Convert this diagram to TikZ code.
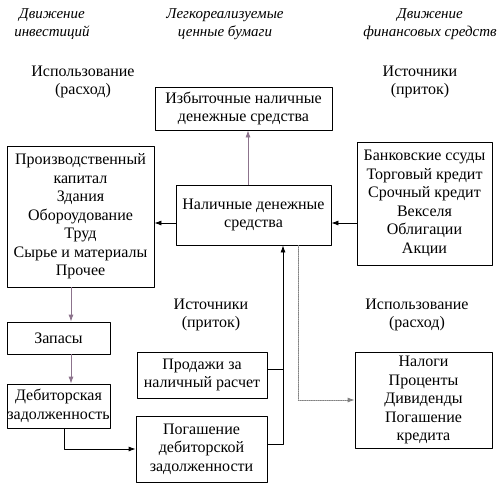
\documentclass[tikz,border=0pt]{standalone}
\usepackage{fontspec}
\setmainfont{Liberation Serif}
\usetikzlibrary{arrows.meta}
\definecolor{qqqqqq}{rgb}{0.,0.,0.}
\definecolor{ttfftt}{rgb}{0.55,0.45,0.55}
\definecolor{wewdxt}{rgb}{0.5,0.5,0.5}
\tikzset{
  box/.style={draw=qqqqqq, align=center, inner sep=0pt, font=\fontsize{16}{18.5}\selectfont},
  lbl/.style={align=center, inner sep=0pt, font=\fontsize{16}{18.5}\selectfont},
  hdr/.style={align=center, inner sep=0pt, font=\fontsize{15}{18}\selectfont\itshape},
  flow/.style={-{Latex[length=7pt,width=5pt]}}
}
\begin{document}
\begin{tikzpicture}[x=1pt,y=-1pt,line width=0.8pt,line cap=round,line join=round]
    \useasboundingbox (0,0) rectangle (500,485);
    % headers
    \node[hdr] (h1) at (52,24) {Движение\\инвестиций};
    \node[hdr] (h2) at (225,24) {Легкореализуемые\\ценные бумаги};
    \node[hdr] (h3) at (430,24) {Движение\\финансовых средств};
    \node[lbl] (use1) at (83,82) {Использование\\(расход)};
    \node[lbl] (src1) at (420,82) {Источники\\(приток)};
    \node[lbl] (src2) at (211,315) {Источники\\(приток)};
    \node[lbl] (use2) at (417,315) {Использование\\(расход)};
    % boxes
    \node[box, minimum width=177, minimum height=43] (izb) at (243.5,108.5) {Избыточные наличные\\денежные средства};
    \node[box, minimum width=155, minimum height=60] (nal) at (253.5,215) {Наличные денежные\\средства};
    \node[box, minimum width=147, minimum height=141] (proizv) at (80.5,216.5) {Производственный\\капитал\\Здания\\Обороудование\\Труд\\Сырье и материалы\\Прочее};
    \node[box, minimum width=135, minimum height=123] (bank) at (424.5,203.5) {Банковские ссуды\\Торговый кредит\\Срочный кредит\\Векселя\\Облигации\\Акции};
    \node[box, minimum width=103, minimum height=32] (zap) at (58.5,338) {Запасы};
    \node[box, minimum width=103, minimum height=44] (deb) at (58.5,406) {Дебиторская\\задолженность};
    \node[box, minimum width=130, minimum height=46] (prod) at (202,375) {Продажи за\\наличный расчет};
    \node[box, minimum width=131, minimum height=66] (pog) at (201.5,449) {Погашение\\дебиторской\\задолженности};
    \node[box, minimum width=137, minimum height=96] (nalog) at (423.5,400) {Налоги\\Проценты\\Дивиденды\\Погашение\\кредита};
    \coordinate (trunk) at ([xshift=29.5]nal.south);
    \coordinate (drop) at ([xshift=44.5]nal.south);
    % connectors
    \draw[flow, color=ttfftt] ([xshift=4.5]izb.south |- nal.north) -- ([xshift=4.5]izb.south);
    \draw[flow] ([yshift=-8]nal.west) -- ([yshift=-8]nal.west -| proizv.east);
    \draw[flow] ([yshift=-8]nal.east -| bank.west) -- ([yshift=-8]nal.east);
    \draw[flow, color=ttfftt] ([xshift=12.5]zap.north |- proizv.south) -- ([xshift=12.5]zap.north);
    \draw[flow, color=ttfftt] ([xshift=12.5]zap.south) -- ([xshift=12.5]deb.north);
    \draw[flow] ([xshift=5.5]deb.south) |- (pog.west);
    \draw ([yshift=6]prod.east) -- ([yshift=6]prod.east -| trunk);
    \draw[flow] ([yshift=5]pog.east) -| (trunk);
    \draw[flow, color=wewdxt, densely dotted] (drop) |- (nalog.west);
\end{tikzpicture}
\end{document}
